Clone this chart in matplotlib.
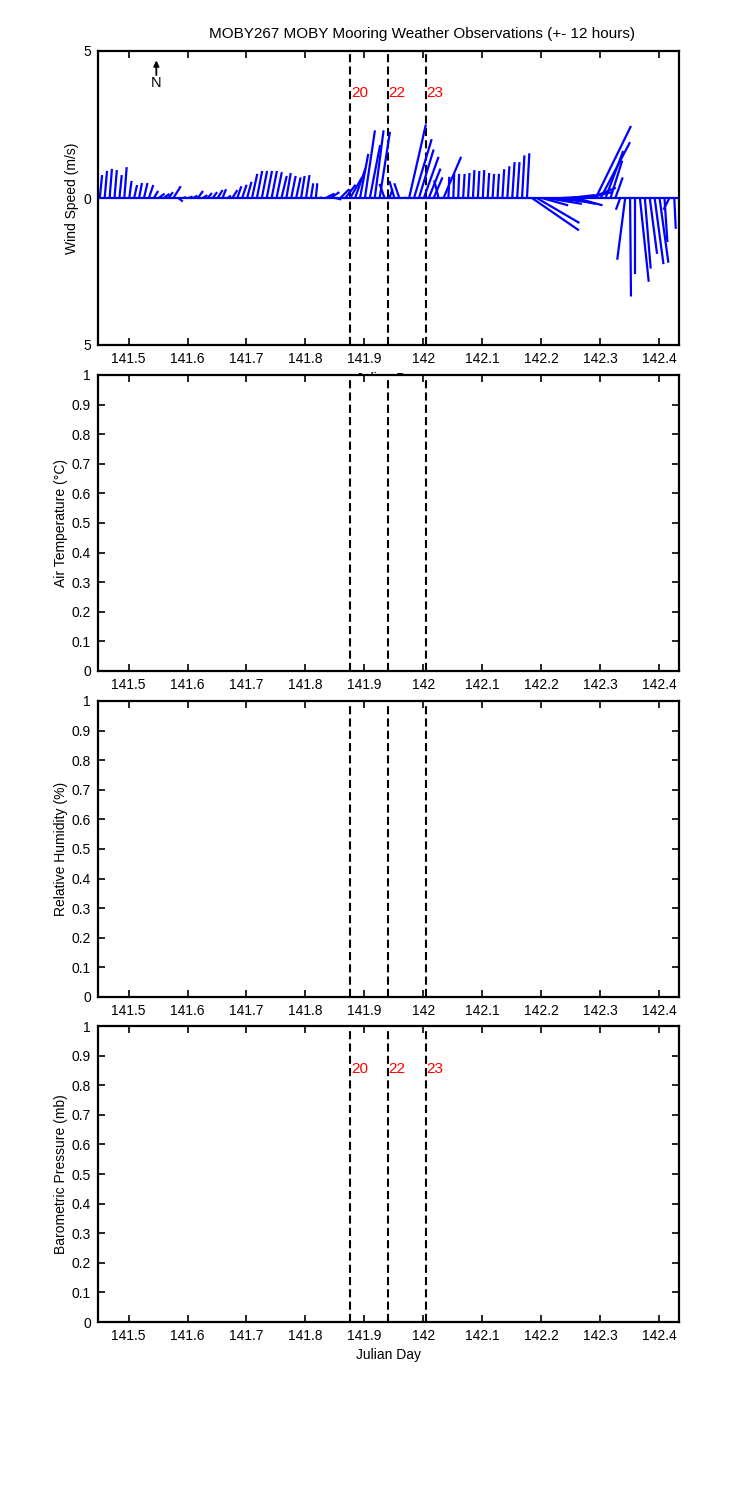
import matplotlib
matplotlib.use('Agg')
import matplotlib.pyplot as plt
import numpy as np
from matplotlib.collections import LineCollection

plt.rcParams['font.family'] = ['Liberation Sans', 'DejaVu Sans']
plt.rcParams['font.size'] = 10

# wind sticks, one every 12 minutes starting at t0
t0 = 141.451
dt = 1.0 / 120
wind_u = [0.08, 0.08, 0.08, 0.08, 0.08, 0.08, 0.08, 0.1, 0.1, 0.12,
          0.15, 0.15, 0.2, 0.2, 0.15, 0.25, 0.15, 0.1, 0.15, 0.15,
          0.17, 0.15, 0.14, 0.15, 0.17, 0.12, 0.12, 0.17, 0.14, 0.15,
          0.15, 0.18, 0.18, 0.18, 0.18, 0.18, 0.18, 0.18, 0.15, 0.15,
          0.15, 0.12, 0.12, 0.08, 0.05, 0.05, 0.3, 0.3, 0.2, 0.3,
          0.35, 0.4, 0.35, 0.28, 0.34, 0.35, 0.3, 0.35, -0.17, 0.1,
          -0.17, -0.17, 0.05, 0.57, 0.6, 0.5, 0.5, 0.4, 0.3, -0.15,
          0.6, 0.03, 0.03, 0.03, 0.05, 0.05, 0.05, 0.05, 0.05, 0.05,
          0.05, 0.05, 0.06, 0.07, 0.08, 0.08, 0.08, 0.08, 1.6, 1.45,
          0.9, 1.2, 1.0, 1.2, 0.9, 1.0, 0.8, 0.9, 0.75, 0.9,
          0.85, 1.2, 1.0, 0.6, 0.4, 0.25, -0.15, -0.27, 0.03, 0.0,
          0.3, 0.2, 0.25, 0.3, 0.3, 0.1, -0.2, 0.05]
wind_v = [0.78, 0.92, 0.99, 0.95, 0.78, 1.05, 0.58, 0.44, 0.51, 0.51,
          0.44, 0.24, 0.15, 0.14, 0.2, 0.4, -0.12, 0.03, 0.05, 0.08,
          0.24, 0.1, 0.17, 0.2, 0.27, 0.3, 0.08, 0.27, 0.4, 0.45,
          0.55, 0.82, 0.92, 0.92, 0.92, 0.92, 0.88, 0.75, 0.85, 0.75,
          0.7, 0.75, 0.78, 0.5, 0.5, 0.03, 0.15, 0.2, -0.05, 0.3,
          0.45, 0.7, 1.0, 1.5, 2.3, 1.8, 2.3, 2.25, 0.48, 0.3,
          0.58, 0.5, 0.02, 2.5, 2.0, 1.65, 1.4, 1.0, 0.7, 0.6,
          1.4, 0.72, 0.82, 0.82, 0.82, 0.85, 0.95, 0.92, 0.95, 0.85,
          0.82, 0.82, 0.98, 1.08, 1.22, 1.22, 1.45, 1.52, -1.1, -0.85,
          -0.25, -0.2, -0.1, -0.15, 0.05, -0.2, 0.1, -0.25, 0.12, 0.2,
          0.35, 2.45, 1.9, 1.6, 1.27, 0.7, -0.4, -2.1, -3.35, -2.6,
          -2.85, -2.4, -1.9, -2.25, -2.2, -1.5, -0.4, -1.05]

xlim = (141.448, 142.434)
xticks = [141.5, 141.6, 141.7, 141.8, 141.9, 142.0, 142.1, 142.2, 142.3, 142.4]
xticklabels = ['141.5', '141.6', '141.7', '141.8', '141.9', '142', '142.1', '142.2', '142.3', '142.4']
cast_times = [141.876, 141.94, 142.004]
cast_labels = ['20', '22', '23']
ylabels = ['Wind Speed (m/s)', 'Air Temperature (\u00b0C)', 'Relative Humidity (%)', 'Barometric Pressure (mb)']

W, H = 750, 1500
fig = plt.figure(figsize=(7.5, 15), dpi=100)
boxes = [(51, 345), (375, 671), (701, 997), (1026, 1322)]
axes = []
for top, bot in boxes:
    ax = fig.add_axes([98 / W, 1 - bot / H, 581 / W, (bot - top) / H])
    axes.append(ax)

for k, ax in enumerate(axes):
    ax.set_xlim(*xlim)
    ax.set_xticks(xticks)
    ax.set_xticklabels(xticklabels)
    ax.tick_params(direction='in', top=True, right=True, length=5, width=1.2, pad=5)
    for s in ax.spines.values():
        s.set_linewidth(1.6)
    ax.set_ylabel(ylabels[k], labelpad=3)
    if k > 0:
        ax.set_ylim(0, 1)
        ax.set_yticks(np.arange(0, 1.01, 0.1))
        ax.set_yticklabels(['0', '0.1', '0.2', '0.3', '0.4', '0.5', '0.6', '0.7', '0.8', '0.9', '1'])
    for t in cast_times:
        ax.axvline(t, color='k', ls=(0, (3.9, 2)), lw=1.5)

# wind stick plot
ax = axes[0]
ax.set_ylim(-5, 5)
ax.set_yticks([-5, 0, 5])
ax.set_yticklabels(['5', '0', '5'])
ax.set_xlabel('Julian Day')
# days per m/s so that sticks keep their true direction on screen
box = boxes[0]
kx = (xlim[1] - xlim[0]) / 581 * (box[1] - box[0]) / 10.0
times = t0 + dt * np.arange(len(wind_u))
segs = [[(t, 0), (t + u * kx, v)] for t, u, v in zip(times, wind_u, wind_v)]
ax.add_collection(LineCollection(segs, colors='b', linewidths=1.6))
ax.axhline(0, color='b', lw=1.6)
ax.annotate('', xy=(141.547, 4.68), xytext=(141.547, 4.18),
            arrowprops=dict(arrowstyle='-|>', color='k', lw=1.3, mutation_scale=8,
                            shrinkA=0, shrinkB=0))
ax.text(141.547, 3.9, 'N', ha='center', va='center', fontsize=10.5)
for t, lab in zip(cast_times, cast_labels):
    ax.text(t + 0.001, 3.57, lab, color='r', ha='left', va='center', fontsize=11)
for t, lab in zip(cast_times, cast_labels):
    axes[3].text(t + 0.001, 0.855, lab, color='r', ha='left', va='center', fontsize=11)
axes[3].set_xlabel('Julian Day')

fig.text(422 / W, 1 - 34 / H, 'MOBY267 MOBY Mooring Weather Observations (+- 12 hours)',
         ha='center', va='center', fontsize=11)

fig.savefig('out.png', dpi=100)
